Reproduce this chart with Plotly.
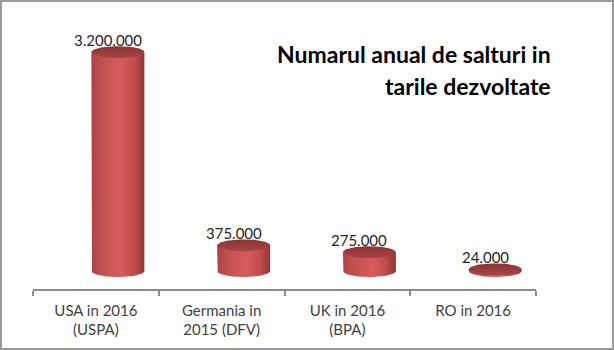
import numpy as np
import plotly.graph_objects as go

# Data
categories = ["USA in 2016<br>(USPA)", "Germania in<br>2015 (DFV)", "UK in 2016<br>(BPA)", "RO in 2016"]
values = [3200000, 375000, 275000, 24000]
title_lines = ["Numarul anual de salturi in", "tarile dezvoltate"]

# Geometry (in axis units)
W, H = 614, 350
ML, MR, MT, MB = 33, 78, 20, 61
plot_w = W - ML - MR
plot_h = H - MT - MB
y_min, y_max = -263000, 3670000
px_per_val = plot_h / (y_max - y_min)
px_per_cat = plot_w / 4.0

depth_dx = 22 / px_per_cat          # perspective shift of the cylinders
label_dx = 12 / px_per_cat
rx = 26.5 / px_per_cat              # cylinder radius (x units)
ry = 6.0 / px_per_val               # ellipse half-height (y units)

body_scale = [[0, "#a84545"], [0.2, "#c25050"], [0.55, "#d65d5c"],
              [0.82, "#bf4c4c"], [1, "#8e3535"]]
top_scale = [[0, "#a64545"], [1, "#8a3434"]]

fig = go.Figure()
t = np.linspace(0, np.pi, 60)
t_full = np.linspace(0, 2 * np.pi, 120)

for i, v in enumerate(values):
    cx = i + depth_dx
    # body: left side down, bottom half-ellipse, right side up
    bx = np.concatenate([[cx - rx], cx - rx * np.cos(t), [cx + rx]])
    by = np.concatenate([[v], -ry * np.sin(t), [v]])
    fig.add_trace(go.Scatter(
        x=bx, y=by, mode="lines", fill="toself",
        line=dict(width=0, color="rgba(0,0,0,0)"),
        fillgradient=dict(type="horizontal", colorscale=body_scale),
        hoverinfo="skip", showlegend=False))
    # top cap
    fig.add_trace(go.Scatter(
        x=cx + rx * np.cos(t_full), y=v + ry * np.sin(t_full),
        mode="lines", fill="toself",
        line=dict(width=0, color="rgba(0,0,0,0)"),
        fillgradient=dict(type="vertical", colorscale=top_scale),
        hoverinfo="skip", showlegend=False))
    fig.add_annotation(
        x=i + label_dx, y=v, yshift=12, text=f"{v:,}".replace(",", "."),
        showarrow=False, font=dict(family="Lato", size=15, color="#262626"),
        xanchor="center", yanchor="middle")

# Title, right aligned in the upper right
for k, line in enumerate(title_lines):
    fig.add_annotation(
        xref="paper", yref="paper",
        x=(553 - ML) / plot_w, y=(H - MB - (54 + 32 * k)) / plot_h,
        text=f"<b>{line}</b>", showarrow=False,
        font=dict(family="Lato", size=23, color="#000000"),
        xanchor="right", yanchor="middle")

# Outer frame
fig.add_shape(
    type="rect", xref="paper", yref="paper",
    x0=(1 - ML) / plot_w, x1=(W - 1 - ML) / plot_w,
    y0=(H - MB - (H - 1)) / plot_h, y1=(H - MB - 1) / plot_h,
    line=dict(color="#9a9a9a", width=2), fillcolor="rgba(0,0,0,0)", layer="below")

fig.update_layout(
    width=W, height=H,
    margin=dict(l=ML, r=MR, t=MT, b=MB),
    paper_bgcolor="white", plot_bgcolor="white",
    xaxis=dict(
        range=[-0.5, 3.5], tickvals=list(range(len(categories))), ticktext=categories,
        ticks="", showgrid=False, zeroline=False,
        showline=True, linecolor="#8c8c8c", linewidth=1.5,
        tickfont=dict(family="Lato", size=15, color="#404040"),
        ticklabelstandoff=7,
        minor=dict(tick0=-0.5, dtick=1, ticks="outside", ticklen=5,
                   tickcolor="#8c8c8c", tickwidth=1.5, showgrid=False),
        fixedrange=True),
    yaxis=dict(range=[y_min, y_max], visible=False, showgrid=False,
               zeroline=False, fixedrange=True),
)

fig.write_html("out.html")
